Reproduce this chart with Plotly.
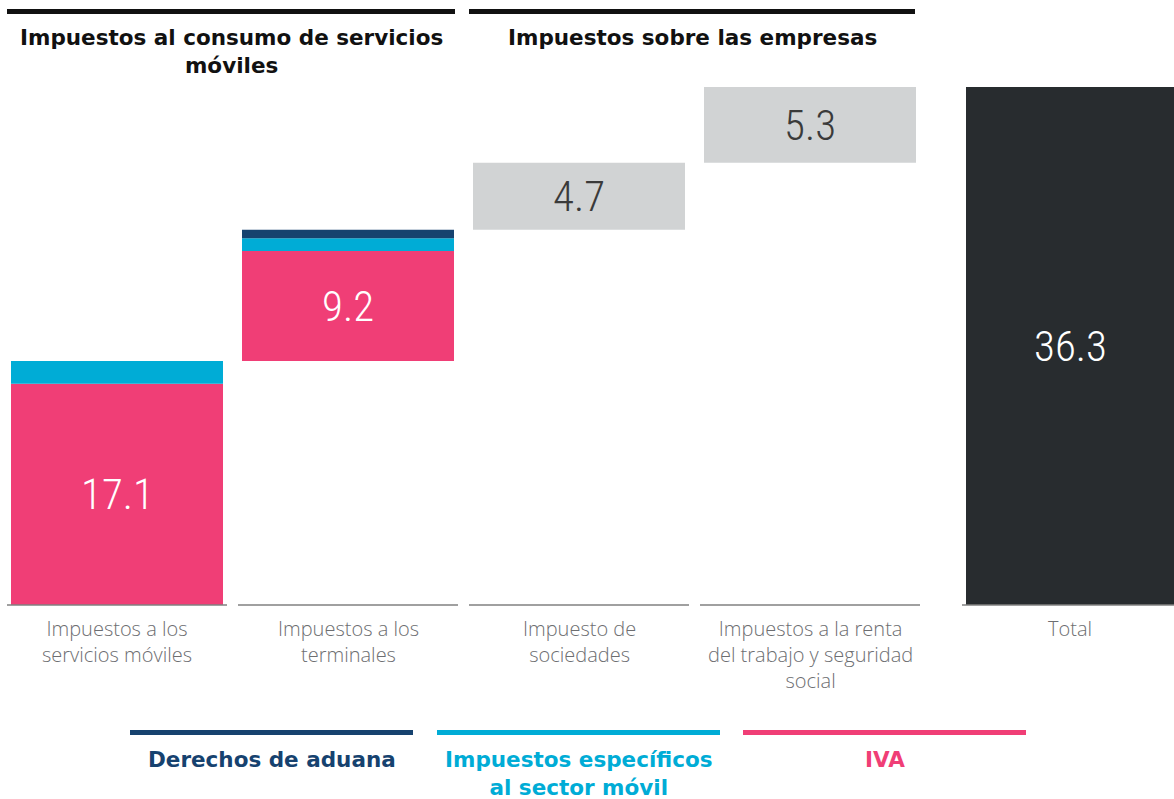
import plotly.graph_objects as go

# ---------------- data ----------------
categories = [
    "Impuestos a los<br>servicios móviles",
    "Impuestos a los<br>terminales",
    "Impuesto de<br>sociedades",
    "Impuestos a la renta<br>del trabajo y seguridad<br>social",
    "Total",
]
group_titles = ["Impuestos al consumo de servicios<br>móviles", "Impuestos sobre las empresas"]
series_names = ["Derechos de aduana", "Impuestos específicos<br>al sector móvil", "IVA"]

# consumption taxes (first two categories), split by component
iva = [15.5, 7.7]
especificos = [1.6, 0.9]
aduana = [0.0, 0.6]
consumo_totals = [17.1, 9.2]
# business taxes (categories 3 and 4)
empresas = [4.7, 5.3]
total = 36.3

# ---------------- styling ----------------
C_NAVY = "#16426f"
C_CYAN = "#00acd6"
C_PINK = "#f03e76"
C_GRAY = "#d1d3d4"
C_DARK = "#282c2f"
C_LABEL = "#6d6e71"

W, H = 1174, 799
BASE_PX = 605            # pixel row of the baseline
PPU = 518 / 36.3          # pixels per unit on y
SLOT = 231
X0 = 117
BAR_W = 212
TOT_W = 208
xpos = [X0 + i * SLOT for i in range(4)] + [1070]

def ypx(px):
    """convert a pixel row into y data units"""
    return (BASE_PX - px) / PPU

num_font = "Liberation Sans Narrow, Roboto Condensed, DejaVu Sans Condensed, Roboto, sans-serif"
head_font = "DejaVu Sans, Verdana, sans-serif"
txt_font = "Open Sans, sans-serif"

fig = go.Figure()

# cumulative bases
b1 = 0.0
b2 = consumo_totals[0]
b3 = b2 + consumo_totals[1]
b4 = b3 + empresas[0]

fig.add_trace(go.Bar(x=xpos[:2], y=iva, base=[b1, b2], width=BAR_W,
                     marker=dict(color=C_PINK, line=dict(width=0)), hoverinfo="skip"))
fig.add_trace(go.Bar(x=xpos[:2], y=especificos, base=[b1 + iva[0], b2 + iva[1]], width=BAR_W,
                     marker=dict(color=C_CYAN, line=dict(width=0)), hoverinfo="skip"))
fig.add_trace(go.Bar(x=xpos[:2], y=aduana,
                     base=[b1 + iva[0] + especificos[0], b2 + iva[1] + especificos[1]], width=BAR_W,
                     marker=dict(color=C_NAVY, line=dict(width=0)), hoverinfo="skip"))
fig.add_trace(go.Bar(x=xpos[2:4], y=empresas, base=[b3, b4], width=BAR_W,
                     marker=dict(color=C_GRAY, line=dict(width=0)), hoverinfo="skip"))
fig.add_trace(go.Bar(x=[xpos[4]], y=[total], base=[0], width=TOT_W,
                     marker=dict(color=C_DARK, line=dict(width=0)), hoverinfo="skip"))

ann = []
shapes = []

# value labels
ann.append(dict(x=xpos[0], y=b1 + iva[0] / 2, text=f"{consumo_totals[0]}", font=dict(color="white")))
ann.append(dict(x=xpos[1], y=b2 + iva[1] / 2, text=f"{consumo_totals[1]}", font=dict(color="white")))
ann.append(dict(x=xpos[2], y=b3 + empresas[0] / 2, text=f"{empresas[0]}", font=dict(color="#3a3a3a")))
ann.append(dict(x=xpos[3], y=b4 + empresas[1] / 2, text=f"{empresas[1]}", font=dict(color="#3a3a3a")))
ann.append(dict(x=xpos[4], y=total / 2, text=f"{total}", font=dict(color="white")))
for a in ann:
    a["font"].update(family=num_font, size=43, weight=300)
    a.update(showarrow=False, xref="x", yref="y")

# baseline segments and category labels
for i, (xc, cat) in enumerate(zip(xpos, categories)):
    half = (TOT_W if i == 4 else BAR_W) / 2 + 4
    x1 = min(xc + half, W)
    shapes.append(dict(type="line", xref="x", yref="y", x0=xc - half, x1=x1, y0=0, y1=0,
                       line=dict(color="#808080", width=1.5)))
    ann.append(dict(x=xc, y=ypx(613), text=cat, showarrow=False, xref="x", yref="y",
                    yanchor="top", align="center",
                    font=dict(family=txt_font, size=20, color=C_LABEL, weight=300)))

# group headers
groups = [(7, 455), (469, 915)]
for (gx0, gx1), title in zip(groups, group_titles):
    shapes.append(dict(type="line", xref="x", yref="y", x0=gx0, x1=gx1, y0=ypx(11.5), y1=ypx(11.5),
                       line=dict(color="#111111", width=5)))
    ann.append(dict(x=(gx0 + gx1) / 2, y=ypx(23), text=title, showarrow=False, xref="x", yref="y",
                    yanchor="top", align="center",
                    font=dict(family=head_font, size=21.5, color="#111111", weight=700)))

# custom legend
leg_x = [(130, 413), (437, 720), (743, 1026)]
leg_c = [C_NAVY, C_CYAN, C_PINK]
for (lx0, lx1), col, name in zip(leg_x, leg_c, series_names):
    shapes.append(dict(type="line", xref="x", yref="y", x0=lx0, x1=lx1, y0=ypx(732.5), y1=ypx(732.5),
                       line=dict(color=col, width=5)))
    ann.append(dict(x=(lx0 + lx1) / 2, y=ypx(745), text=name, showarrow=False, xref="x", yref="y",
                    yanchor="top", align="center",
                    font=dict(family=head_font, size=21.5, color=col, weight=700)))

fig.update_layout(
    width=W, height=H,
    margin=dict(l=0, r=0, t=0, b=0),
    paper_bgcolor="white", plot_bgcolor="white",
    barmode="overlay", showlegend=False,
    xaxis=dict(range=[0, W], visible=False, fixedrange=True),
    yaxis=dict(range=[ypx(H), ypx(0)], visible=False, fixedrange=True),
    annotations=ann, shapes=shapes,
)

fig.write_html("out.html", config={"displayModeBar": False},
               post_script="document.body.style.margin='0';")
